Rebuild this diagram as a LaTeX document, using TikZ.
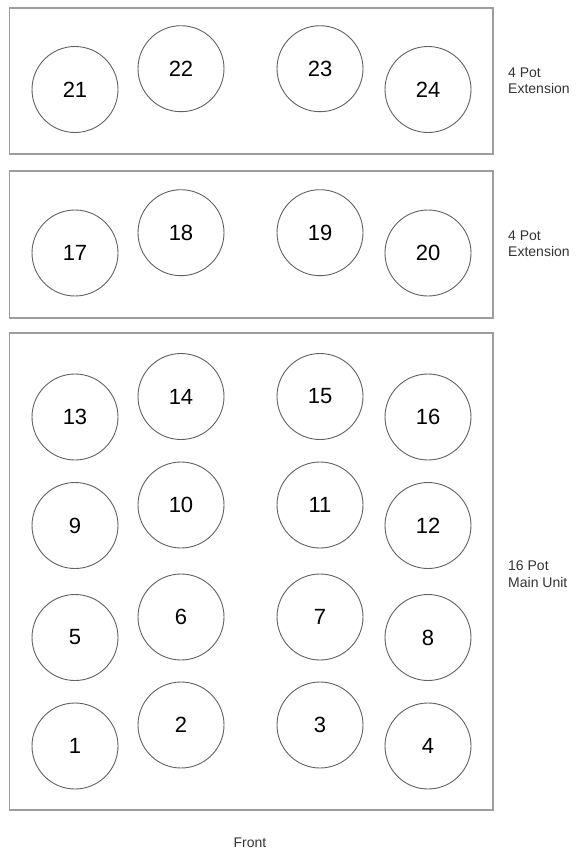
\documentclass[tikz,border=0pt]{standalone}
\usepackage{fontspec}
\setmainfont{Liberation Sans}
\begin{document}
\begin{tikzpicture}[x=1pt,y=-1pt,
  unitbox/.style={rectangle,draw=black!38,line width=1.6pt,inner sep=0pt,outer sep=0pt},
  pot/.style={circle,draw=black!62,line width=0.9pt,minimum size=86pt,inner sep=0pt,font=\fontsize{22}{22}\selectfont},
  side/.style={anchor=base west,inner sep=0pt,font=\fontsize{14}{16}\selectfont,text=black!80}]
\useasboundingbox (0,0) rectangle (577,854);
\node[unitbox,minimum width=483.2pt,minimum height=146pt] (ext2) at (251.1,81) {};
\node[unitbox,minimum width=483.2pt,minimum height=147pt] (ext1) at (251.1,244.5) {};
\node[unitbox,minimum width=483.2pt,minimum height=477.3pt] (main) at (251.1,571.4) {};
% pots: number / x / y
\foreach \n/\x/\y in {
  21/75/89.5, 22/181/68.7, 23/320/68.7, 24/428/89.5,
  17/75/253, 18/181/232.7, 19/320/232.7, 20/428/253,
  13/75/417, 14/181/396.5, 15/320/396.5, 16/428/417,
  9/75/525.5, 10/181/505, 11/320/505, 12/428/525.5,
  5/75/637.5, 6/181/617, 7/320/617, 8/428/637.5,
  1/75/746, 2/181/725, 3/320/725, 4/428/746}
  \node[pot] (p\n) at (\x,\y) {\n};
\node[side] (l1a) at (508,77) {4 Pot};
\node[side] (l1b) at (508,93) {Extension};
\node[side] (l2a) at (508,240) {4 Pot};
\node[side] (l2b) at (508,256.5) {Extension};
\node[side] (l3a) at (508,570) {16 Pot};
\node[side] (l3b) at (508,587) {Main Unit};
\node[inner sep=0pt,font=\fontsize{14}{16}\selectfont,text=black!80] (front) at (250,843) {Front};
\end{tikzpicture}
\end{document}
